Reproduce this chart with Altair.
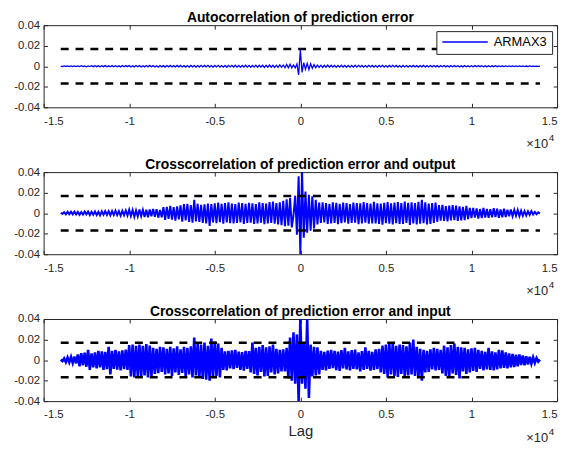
import altair as alt
import pandas as pd

# ---------------- data (values in units of 0.001) ----------------
LAG_START = -14000
LAG_STEP = 100
UNIT = 1e-3

auto_err = [
    0.2, -0.3, 0.3, -0.2, 0.4, -0.3, 0.3, -0.4, 0.3, -0.3,
    0.4, -0.3, 0.5, -0.4, 0.3, -0.5, 0.4, -0.3, 0.5, -0.4,
    0.5, -0.4, 0.4, -0.6, 0.5, -0.4, 0.6, -0.5, 0.4, -0.5,
    0.6, -0.5, 0.5, -0.6, 0.4, -0.6, 0.7, -0.5, 0.6, -0.4,
    0.6, -0.7, 0.5, -0.6, 0.7, -0.5, 0.6, -0.7, 0.5, -0.6,
    0.7, -0.6, 0.8, -0.5, 0.6, -0.7, 0.5, -0.8, 0.7, -0.6,
    0.6, -0.8, 0.7, -0.6, 0.8, -0.7, 0.6, -0.7, 0.8, -0.6,
    0.8, -0.7, 0.6, -0.8, 0.7, -0.9, 0.8, -0.6, 0.7, -0.8,
    0.7, -0.8, 0.9, -0.7, 0.8, -0.6, 0.9, -0.8, 0.7, -0.9,
    0.8, -0.7, 0.9, -0.8, 0.7, -0.9, 0.8, -1.0, 0.9, -0.7,
    0.9, -0.8, 1.0, -0.9, 0.8, -1.0, 0.9, -0.8, 1.0, -0.9,
    0.8, -1.0, 0.9, -0.8, 1.1, -0.9, 1.0, -0.8, 0.9, -1.1,
    1.0, -0.9, 1.1, -1.0, 0.9, -1.2, 1.0, -1.1, 1.3, -1.0,
    1.2, -1.4, 1.8, -1.6, 1.9, -1.5, 1.3, -1.6, 2.2, -8.5,
    16.0, -6.0, 3.5, -3.0, 2.8, -3.2, 2.5, -2.0, 1.6, -1.4,
    1.2, -1.1, 1.0, -1.2, 0.9, -1.0, 1.1, -0.9, 1.0, -0.8,
    0.9, -1.0, 0.8, -0.9, 1.0, -0.8, 0.9, -1.0, 0.8, -0.9,
    0.8, -0.9, 1.0, -0.8, 0.9, -0.7, 0.8, -0.9, 0.7, -0.8,
    0.9, -0.7, 0.8, -0.8, 0.7, -0.9, 0.8, -0.7, 0.9, -0.8,
    0.7, -0.8, 0.8, -0.7, 0.9, -0.7, 0.8, -0.8, 0.7, -0.9,
    0.8, -0.7, 0.7, -0.8, 0.7, -0.6, 0.8, -0.7, 0.6, -0.8,
    0.7, -0.6, 0.8, -0.7, 0.6, -0.7, 0.7, -0.6, 0.7, -0.6,
    0.6, -0.7, 0.6, -0.5, 0.7, -0.6, 0.5, -0.6, 0.6, -0.5,
    0.6, -0.5, 0.5, -0.6, 0.5, -0.6, 0.6, -0.5, 0.4, -0.5,
    0.5, -0.5, 0.6, -0.4, 0.5, -0.4, 0.5, -0.5, 0.4, -0.5,
    0.4, -0.5, 0.4, -0.4, 0.5, -0.4, 0.4, -0.3, 0.4, -0.4,
    0.4, -0.3, 0.4, -0.4, 0.3, -0.3, 0.4, -0.3, 0.3, -0.3,
    0.3, -0.3, 0.2, -0.3, 0.3, -0.2, 0.2, -0.2, 0.2, -0.1,
    0.1,
]

xcorr_out = [
    0.3, -0.6, 0.9, -1.1, 1.3, -1.0, 1.4, -1.2, 1.5, -1.3,
    1.2, -1.6, 1.1, -1.4, 1.7, -1.2, 1.5, -1.8, 1.3, -1.5,
    1.6, -1.9, 1.4, -2.1, 1.8, -1.5, 2.0, -1.7, 1.9, -2.2,
    2.1, -1.8, 2.4, -2.0, 1.9, -2.5, 2.2, -2.0, 2.6, -2.3,
    3.4, -2.8, 3.0, -3.6, 2.7, -3.2, 3.5, -2.9, 3.1, -3.8,
    3.3, -4.0, 3.6, -3.1, 4.2, -3.5, 3.8, -4.4, 3.2, -4.1,
    5.8, -6.5, 6.2, -5.5, 7.0, -6.3, 5.9, -7.2, 6.6, -6.0,
    7.5, -8.2, 8.8, -7.0, 9.0, -8.5, 7.8, -9.3, 13.0, -8.0,
    9.2, -8.6, 8.0, -9.5, 8.7, -10.0, 9.4, -12.5, 8.9, -9.0,
    9.6, -9.8, 10.3, -8.8, 9.0, -10.2, 9.8, -9.1, 10.5, -9.7,
    9.3, -10.1, 8.9, -9.6, 10.2, -9.0, 9.7, -10.6, 9.1, -9.4,
    10.0, -9.2, 9.5, -10.4, 8.8, -9.9, 10.6, -9.3, 9.9, -10.8,
    9.4, -10.0, 10.8, -9.6, 11.2, -10.3, 9.8, -11.0, 10.5, -11.6,
    12.0, -12.8, 13.5, -12.2, 14.6, -13.8, -2.0, 17.0, -21.0, 36.0,
    -40.0, 40.0, -24.0, 21.0, -19.0, 18.0, -17.0, 16.5, -15.0, 13.0,
    -11.0, 10.2, -9.6, 10.5, -9.0, 9.8, -10.4, 9.2, -9.9, 10.6,
    -9.4, 10.1, -10.7, 9.0, -9.8, 10.3, -9.1, 9.7, -10.2, 8.9,
    -9.6, 10.4, -9.3, 9.9, -10.8, 9.5, -10.0, 10.7, -9.2, 9.8,
    -10.3, 9.4, -9.9, 11.0, -10.1, 9.6, -10.5, 9.3, -11.2, 10.0,
    -9.7, 10.8, -10.2, 9.5, -11.0, 10.4, -9.8, 10.9, -10.6, 9.9,
    -10.4, 11.2, -9.6, 10.1, -11.4, 10.6, -10.0, 9.8, -10.9, 11.0,
    -10.2, 13.0, -9.8, 10.6, -11.0, 9.4, -10.5, 9.9, -9.6, 10.2,
    -8.4, 7.9, -7.2, 8.1, -7.6, 6.9, -8.0, 7.4, -7.0, 7.8,
    -6.8, 7.3, -7.5, 6.6, -7.1, 6.2, -6.9, 7.0, -5.8, 5.2,
    -4.8, 5.1, -4.3, 4.6, -5.2, 4.0, -4.7, 5.0, -4.4, 4.2,
    -4.6, 3.9, -4.1, 4.8, -3.8, 4.3, -4.5, 3.7, -4.0, 4.4,
    -3.8, 3.4, -3.1, 3.6, -2.9, 3.2, -2.6, 3.0, -2.8, 2.4,
    -2.6, 2.1, -2.3, 1.9, -1.6, 2.0, -1.4, 1.2, -1.0, 0.8,
    -0.3,
]

xcorr_in = [
    0.3, -1.0, 1.6, -2.0, 2.5, -2.2, 3.0, -2.8, 3.5, -3.2,
    5.5, -6.0, 6.8, -5.2, 7.2, -6.5, 10.0, -9.5, 6.5, -7.0,
    7.5, -8.0, 9.0, -7.2, 8.5, -9.5, 8.0, -8.8, 13.0, -14.0,
    9.0, -8.6, 10.0, -9.2, 8.4, -10.0, 9.5, -8.8, 10.2, -9.6,
    14.5, -16.0, 15.0, -17.0, 13.8, -15.5, 15.2, -16.8, 14.0, -15.0,
    15.5, -17.0, 14.2, -16.0, 12.0, -13.5, 11.0, -12.8, 13.0, -11.5,
    12.5, -14.0, 11.0, -13.0, 12.8, -15.5, 11.5, -12.0, 13.5, -14.5,
    10.5, -12.5, 13.0, -16.0, 12.0, -14.0, 13.5, -17.0, 22.0, -15.0,
    16.0, -17.5, 15.0, -18.5, 17.0, -19.0, 14.0, -20.0, 21.0, -17.0,
    18.0, -15.5, 16.0, -17.0, 12.0, -9.5, 8.5, -10.0, 9.0, -8.0,
    9.5, -8.8, 10.0, -7.5, 8.2, -9.6, 7.8, -10.2, 9.0, -8.5,
    8.8, -12.0, 17.0, -13.5, 12.0, -15.0, 13.0, -11.5, 14.5, -16.0,
    12.5, -15.5, 13.5, -12.0, 15.0, -14.0, 11.0, -13.0, 10.0, -11.0,
    10.5, -11.0, 12.0, -18.0, 22.0, -20.0, 27.0, -23.0, 25.0, -40.0,
    40.0, -23.0, 17.0, -28.0, 40.0, -37.0, 15.0, -16.0, 13.0, -15.0,
    12.5, -14.0, 9.0, -9.5, 8.0, -10.0, 9.2, -8.5, 10.0, -7.8,
    9.0, -9.8, 8.2, -10.5, 9.6, -8.0, 12.0, -9.2, 8.5, -10.0,
    9.8, -8.6, 10.2, -9.0, 7.5, -11.0, 8.8, -9.5, 12.5, -8.5,
    9.0, -10.2, 8.0, -9.5, 10.5, -8.8, 11.0, -12.0, 14.0, -13.5,
    15.0, -17.0, 16.5, -14.0, 17.0, -15.5, 14.0, -16.5, 15.0, -13.5,
    14.5, -16.0, 13.5, -15.0, 17.0, -14.0, 20.0, -15.5, 13.0, -17.0,
    11.0, -20.0, 10.0, -12.0, 9.0, -11.5, 10.5, -9.0, 12.0, -10.0,
    11.0, -9.5, 10.0, -13.0, 14.0, -15.5, 12.5, -17.0, 14.5, -13.0,
    16.0, -14.5, 13.0, -18.0, 12.5, -11.0, 12.0, -13.5, 10.5, -12.0,
    11.5, -10.5, 12.0, -11.5, 10.0, -8.5, 9.0, -10.0, 8.0, -9.0,
    12.0, -9.5, 8.5, -10.0, 7.5, -9.0, 10.0, -8.0, 9.5, -7.5,
    7.5, -8.0, 6.5, -7.0, 6.0, -6.8, 5.2, -6.0, 5.5, -4.8,
    4.5, -5.0, 3.8, -4.2, 3.2, -3.5, 2.6, -2.8, 2.0, -1.5,
    0.5,
]

conf_bound = 0.0168
x_ticks = [-15000, -10000, -5000, 0, 5000, 10000, 15000]
y_ticks = [-0.04, -0.02, 0, 0.02, 0.04]
titles = [
    "Autocorrelation of prediction error",
    "Crosscorrelation of prediction error and output",
    "Crosscorrelation of prediction error and input",
]
legend_label = "ARMAX3"
x_label = "Lag"
exp_base = "×10"
exp_power = "4"

# ---------------- style ----------------
W, H = 519, 83
FONT = "Liberation Sans"
AX = "#262626"
BLUE = "#0000ff"

xs = alt.Scale(domain=[-15000, 15000], nice=False, zero=False)
ys = alt.Scale(domain=[-0.04, 0.04], nice=False, zero=False)


def tick_axis(vals, orient, offset):
    return alt.Axis(values=vals, orient=orient, offset=offset, labels=False,
                    ticks=True, tickSize=4, tickColor=AX, tickWidth=1,
                    domain=False, grid=False)


def panel(vals, title, line_width, with_legend=False, xtitle=None):
    df = pd.DataFrame({
        "lag": [LAG_START + LAG_STEP * i for i in range(len(vals))],
        "value": [v * UNIT for v in vals],
    })
    df["series"] = legend_label
    lo, hi = int(df["lag"].min()), int(df["lag"].max())
    up = pd.DataFrame({"lag": [lo, hi], "value": [conf_bound, conf_bound]})
    dn = pd.DataFrame({"lag": [lo, hi], "value": [-conf_bound, -conf_bound]})

    xaxis_kw = dict(values=x_ticks, labelExpr="'' + datum.value / 10000",
                    ticks=False, domain=False, grid=False, orient="bottom",
                    labelPadding=8)
    if xtitle:
        xaxis_kw.update(titleFont=FONT, titleFontSize=15, titleFontWeight="normal",
                        titleColor=AX, titleBaseline="alphabetic", titleY=35,
                        titleX=W / 2)
    main_x = alt.X("lag:Q", scale=xs, axis=alt.Axis(**xaxis_kw),
                   title=xtitle if xtitle else None)
    main_y = alt.Y("value:Q", scale=ys, title=None,
                   axis=alt.Axis(values=y_ticks, labelExpr="'' + datum.value",
                                 ticks=False, domain=False, grid=False,
                                 orient="left", labelPadding=4))
    if with_legend:
        color = alt.Color("series:N",
                          scale=alt.Scale(domain=[legend_label], range=[BLUE]),
                          legend=alt.Legend(orient="none", legendX=397, legendY=6,
                                            title=None, symbolType="stroke",
                                            symbolSize=2116, symbolStrokeWidth=1.5,
                                            strokeColor=AX, fillColor="white",
                                            padding=5, labelFont=FONT,
                                            labelFontSize=13, labelColor="black",
                                            labelOffset=5, clipHeight=12))
    else:
        color = alt.value(BLUE)

    sig = alt.Chart(df).mark_line(strokeWidth=line_width, clip=True).encode(
        x=main_x, y=main_y, color=color)

    dash_up = alt.Chart(up).mark_line(color="black", strokeWidth=2.5,
                                      strokeDash=[8, 7]).encode(
        x=alt.X("lag:Q", scale=xs, title=None, axis=tick_axis(x_ticks, "top", -H)),
        y=alt.Y("value:Q", scale=ys, title=None, axis=tick_axis(y_ticks, "right", -W)),
    )
    dash_dn = alt.Chart(dn).mark_line(color="black", strokeWidth=2.5,
                                      strokeDash=[8, 7]).encode(
        x=alt.X("lag:Q", scale=xs, title=None, axis=tick_axis(x_ticks, "bottom", -H)),
        y=alt.Y("value:Q", scale=ys, title=None, axis=tick_axis(y_ticks, "left", -W)),
    )
    base_txt = alt.Chart(pd.DataFrame({"t": [exp_base]})).mark_text(
        align="right", baseline="alphabetic", font=FONT, fontSize=13, color=AX
    ).encode(x=alt.value(W - 9), y=alt.value(H + 41), text="t:N")
    pow_txt = alt.Chart(pd.DataFrame({"t": [exp_power]})).mark_text(
        align="left", baseline="alphabetic", font=FONT, fontSize=10, color=AX
    ).encode(x=alt.value(W - 8.5), y=alt.value(H + 34.5), text="t:N")

    return alt.layer(sig, dash_up, dash_dn, base_txt, pow_txt).resolve_axis(
        x="independent", y="independent"
    ).properties(
        width=W, height=H,
        title=alt.TitleParams(text=title, font=FONT, fontSize=14, fontWeight="bold",
                              color="black", anchor="middle", frame="group", offset=-5.5),
    )


chart = alt.vconcat(
    panel(auto_err, titles[0], 1.3, with_legend=True),
    panel(xcorr_out, titles[1], 2.0),
    panel(xcorr_in, titles[2], 2.6, xtitle=x_label),
    spacing=65.5,
    bounds="flush",
).properties(
    padding={"left": 5, "top": 0, "right": 5, "bottom": 0},
).configure_view(
    stroke=AX, strokeWidth=1
).configure_axis(
    labelFont=FONT, labelFontSize=11.5, labelColor=AX
)

chart.save("out.html", embed_options={"renderer": "svg", "actions": False})
